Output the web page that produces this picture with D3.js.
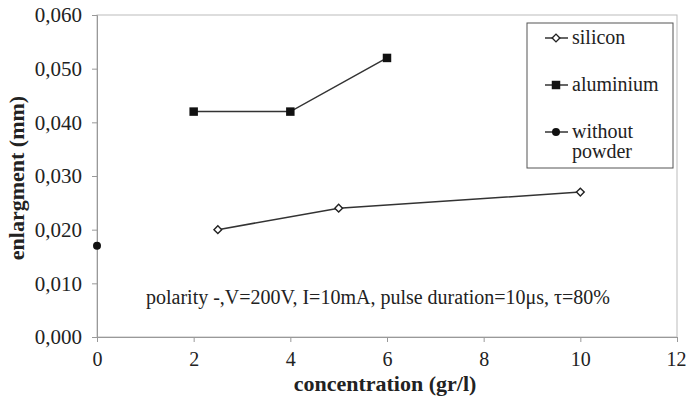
<!DOCTYPE html>
<html><head><meta charset="utf-8">
<script src="https://cdn.jsdelivr.net/npm/d3@7"></script>
<style>body{margin:0;background:#fff}svg{display:block}</style>
</head><body><svg id="c" width="686" height="400"></svg>
<script>
const xTicks = [0,2,4,6,8,10,12];
const yTicks = [0,0.01,0.02,0.03,0.04,0.05,0.06];
const siliconX = [2.5,5,10];
const siliconY = [0.020,0.024,0.027];
const aluminiumX = [2,4,6];
const aluminiumY = [0.042,0.042,0.052];
const withoutX = [0];
const withoutY = [0.017];
const legendLabels = ["silicon","aluminium","without powder"];
const note = "polarity -,V=200V, I=10mA, pulse duration=10\u03bcs, \u03c4=80%";

const FF = "'Liberation Serif', 'Times New Roman', serif";
const svg = d3.select("#c");
const L=97,R=677,T=15,B=337;
const x = d3.scaleLinear().domain([0,12]).range([L,R]);
const y = d3.scaleLinear().domain([0,0.06]).range([B,T]);
const fmt = d => d.toFixed(3).replace(".",",");

svg.append("rect").attr("x",L).attr("y",T).attr("width",R-L).attr("height",B-T)
  .attr("fill","none").attr("stroke","#bbb").attr("stroke-width",1);

const ya = svg.append("g").attr("transform",`translate(${L},0)`)
  .call(d3.axisLeft(y).tickValues(yTicks).tickFormat(fmt).tickSize(5).tickPadding(10));
const xa = svg.append("g").attr("transform",`translate(0,${B})`)
  .call(d3.axisBottom(x).tickValues(xTicks).tickFormat(d3.format("d")).tickSize(5).tickPadding(10));
[ya,xa].forEach(g=>{
  g.attr("font-family",FF);
  g.select(".domain").attr("stroke","#999");
  g.selectAll(".tick line").attr("stroke","#999");
  g.selectAll("text").attr("font-size",21).attr("fill","#222").attr("font-family",FF);
});
xa.selectAll("text").attr("font-size",20);
xa.selectAll(".tick").filter(d=>d===12).select("text").attr("text-anchor","end").attr("dx",9);

svg.append("text").attr("x",385).attr("y",391).attr("text-anchor","middle").attr("font-family",FF)
  .attr("font-size",22).attr("font-weight","bold").attr("fill","#222").text("concentration (gr/l)");
svg.append("text").attr("transform","translate(24,178) rotate(-90)").attr("text-anchor","middle").attr("font-family",FF)
  .attr("font-size",22).attr("font-weight","bold").attr("fill","#222").text("enlargment (mm)");

svg.append("text").attr("x",378).attr("y",304).attr("text-anchor","middle").attr("font-family",FF)
  .attr("font-size",20).attr("fill","#222").text(note);

const line = d3.line().x(d=>x(d[0])).y(d=>y(d[1]));
const sil = siliconX.map((v,i)=>[v,siliconY[i]]);
const alu = aluminiumX.map((v,i)=>[v,aluminiumY[i]]);
const wo = withoutX.map((v,i)=>[v,withoutY[i]]);
svg.append("path").datum(sil).attr("d",line).attr("fill","none").attr("stroke","#333").attr("stroke-width",1.5);
svg.append("path").datum(alu).attr("d",line).attr("fill","none").attr("stroke","#333").attr("stroke-width",1.5);

const diamond = d3.symbol().type(d3.symbolSquare).size(30);
const square = d3.symbol().type(d3.symbolSquare).size(72);
const circle = d3.symbol().type(d3.symbolCircle).size(50);
svg.selectAll(".sil").data(sil).join("path").attr("transform",d=>`translate(${x(d[0])},${y(d[1])}) rotate(45)`)
  .attr("d",diamond).attr("fill","#fff").attr("stroke","#222").attr("stroke-width",1.4);
svg.selectAll(".alu").data(alu).join("path").attr("transform",d=>`translate(${x(d[0])},${y(d[1])})`)
  .attr("d",square).attr("fill","#111");
svg.selectAll(".wo").data(wo).join("path").attr("transform",d=>`translate(${x(d[0])},${y(d[1])})`)
  .attr("d",circle).attr("fill","#111");

const lg = svg.append("g");
lg.append("rect").attr("x",527).attr("y",23).attr("width",146).attr("height",145)
  .attr("fill","#fff").attr("stroke","#555").attr("stroke-width",1);
const syms=[diamond,square,circle], fills=["#fff","#111","#111"], ly=[38,85,132];
legendLabels.forEach((lab,i)=>{
  lg.append("line").attr("x1",545).attr("x2",568).attr("y1",ly[i]).attr("y2",ly[i]).attr("stroke","#333").attr("stroke-width",1.5);
  lg.append("path").attr("transform",`translate(556,${ly[i]})` + (i==0?" rotate(45)":"")).attr("d",syms[i])
    .attr("fill",fills[i]).attr("stroke",i==0?"#222":"none").attr("stroke-width",1.4);
  const t = lg.append("text").attr("x",572).attr("y",ly[i]+6).attr("font-size",20).attr("fill","#222").attr("font-family",FF);
  if(i==2){
    t.append("tspan").attr("x",572).text("without");
    t.append("tspan").attr("x",572).attr("dy",20).text("powder");
  } else t.text(lab);
});
</script></body></html>
